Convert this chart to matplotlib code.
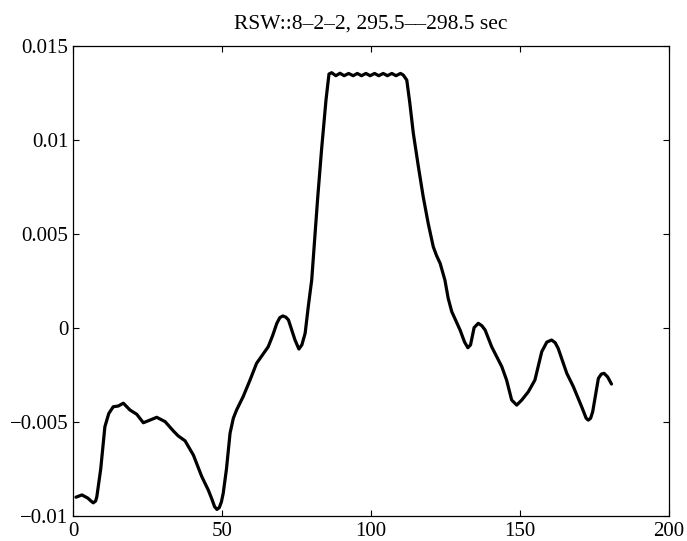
import numpy as np
import matplotlib
matplotlib.use('Agg')
import matplotlib.pyplot as plt

x = [1, 3, 5, 6.0, 6.8, 7.6, 8, 9.3, 10.7, 12, 13.5, 15.2, 16.9, 19.1, 21.4, 23.6,
     25.8, 28.1, 30.9, 33.7, 35.3, 37.6, 40.4, 43.2, 45.4, 46.6, 47.5, 48.3, 49.1,
     49.8, 50.4, 51.5, 52.7, 53.8, 54.9, 57.1, 59.4, 61.6, 62.8, 65.5, 67, 68.4, 69.4,
     70.4, 71.4, 72.3, 74.5, 75.8, 76.8, 77.9, 79.0, 80.1, 82.1, 83.4, 84.9, 85.9,
     86.8, 88.2, 89.6, 91, 92.5, 94, 95.4, 96.8, 98.3, 99.7, 101.2, 102.6, 104.1,
     105.5, 107, 108.4, 109.9, 110.8, 112, 113, 114.2, 115.9, 117.5, 119.2, 120.9,
     122.0, 123.2, 124.8, 125.9, 127.1, 129.9, 131.4, 132.5, 133.4, 134.6, 136, 137.2,
     138.3, 140.5, 143.9, 145.5, 147.2, 148.9, 150.6, 152.8, 155, 157.3, 159.0, 160.6,
     161.8, 162.8, 165.7, 167.9, 170.7, 172.2, 172.9, 173.7, 174.4, 176.3, 177.3,
     178.2, 179.4, 180.7]
y = [-0.00900, -0.00888, -0.00905, -0.00920, -0.00930, -0.00920, -0.00897, -0.00750,
     -0.00525, -0.00455, -0.00419, -0.00415, -0.00400, -0.00436, -0.00459, -0.00504,
     -0.00490, -0.00475, -0.00498, -0.00548, -0.00574, -0.00600, -0.00676, -0.00790,
     -0.00862, -0.00910, -0.00950, -0.00965, -0.00955, -0.00925, -0.00880, -0.00750,
     -0.00560, -0.00480, -0.00436, -0.00365, -0.00277, -0.00188, -0.00161, -0.00100,
     -0.00040, 0.00025, 0.00055, 0.00064, 0.00058, 0.00043, -0.00064, -0.00112,
     -0.00090, -0.00028, 0.00120, 0.00255, 0.00690, 0.00947, 0.01213, 0.01351,
     0.01358, 0.01342, 0.01355, 0.01342, 0.01354, 0.01342, 0.01354, 0.01342, 0.01354,
     0.01342, 0.01354, 0.01342, 0.01354, 0.01342, 0.01354, 0.01342, 0.01354, 0.01346,
     0.01319, 0.01200, 0.01036, 0.00858, 0.00700, 0.00556, 0.00432, 0.00385, 0.00344,
     0.00255, 0.00158, 0.00087, -0.00011, -0.00075, -0.00105, -0.00090, 0.00002,
     0.00025, 0.00012, -0.00011, -0.00100, -0.00206, -0.00277, -0.00383, -0.00410,
     -0.00383, -0.00339, -0.00277, -0.00126, -0.00075, -0.00064, -0.00078, -0.00108,
     -0.00241, -0.00312, -0.00419, -0.00480, -0.00490, -0.00480, -0.00445, -0.00268,
     -0.00245, -0.00241, -0.00260, -0.00298]

xticks = [0, 50, 100, 150, 200]
yticks = [-0.01, -0.005, 0, 0.005, 0.01, 0.015]
ytick_labels = ['\u22120.01', '\u22120.005', '0', '0.005', '0.01', '0.015']
title = 'RSW::8\u20132\u20132, 295.5\u2013\u2013298.5 sec'

plt.rcParams['font.family'] = ['Liberation Serif', 'DejaVu Serif']

fig = plt.figure(figsize=(6.87, 5.41), dpi=100)
ax = fig.add_axes([73 / 687, 25 / 541, 596 / 687, 470 / 541])

ax.plot(x, y, color='black', linewidth=2.3, solid_joinstyle='round',
        solid_capstyle='round')

ax.set_xlim(0, 200)
ax.set_ylim(-0.01, 0.015)
ax.set_xticks(xticks)
ax.set_xticklabels([str(t) for t in xticks])
ax.set_yticks(yticks)
ax.set_yticklabels(ytick_labels)
ax.tick_params(direction='in', length=4.5, width=0.8, top=True, right=True,
               labelsize=15)
ax.tick_params(axis='x', pad=4.5)
ax.tick_params(axis='y', pad=3.5)
for s in ax.spines.values():
    s.set_linewidth(0.9)

ax.set_title(title, fontsize=15.5, pad=12.5)

fig.savefig('out.png', dpi=100)
